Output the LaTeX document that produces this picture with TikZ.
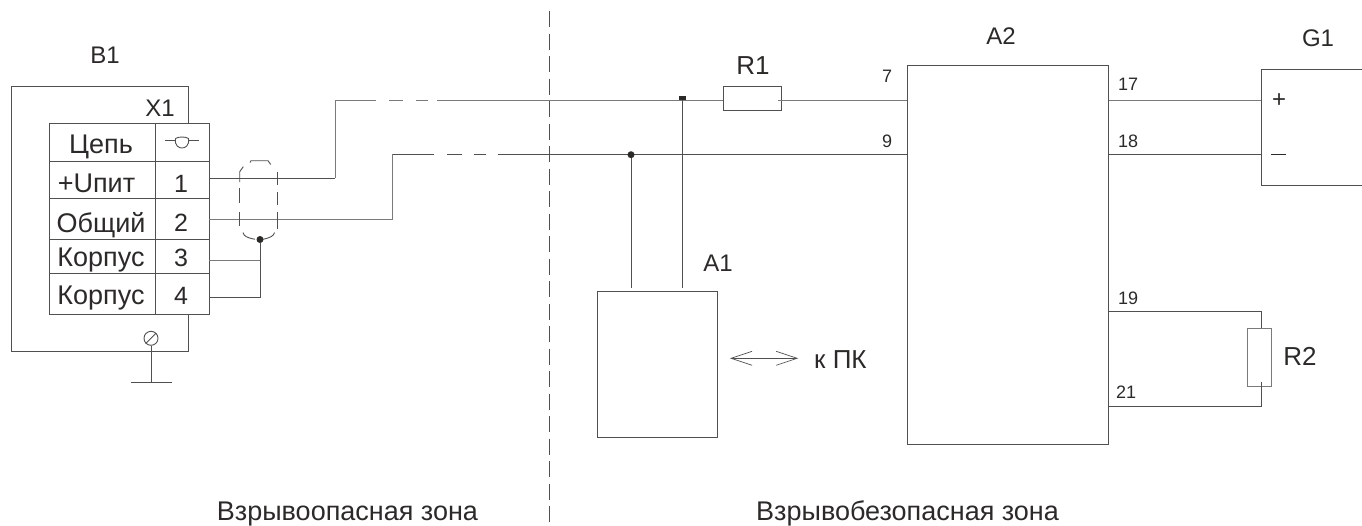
\documentclass[tikz,border=0pt]{standalone}
\usepackage{fontspec}
\setmainfont{Liberation Sans}
\usetikzlibrary{arrows.meta}
\definecolor{wire}{HTML}{505050}
\definecolor{wiregrey}{HTML}{7A7A7A}
\definecolor{ink}{HTML}{2B2A29}
\tikzset{
  wireline/.style={draw=wire,line width=1pt},
  greyline/.style={draw=wiregrey,line width=1pt},
  blockbox/.style={draw=wire,line width=1pt,fill=white,minimum width=0pt,minimum height=0pt,inner sep=0pt},
  biglabel/.style={text=ink,inner sep=0pt,font=\fontsize{24}{24}\selectfont},
  widelabel/.style={text=ink,inner sep=0pt,font=\fontsize{26}{26}\selectfont},
  cellt/.style={text=ink,inner sep=0pt,anchor=base,font=\fontsize{27}{27}\selectfont},
  celln/.style={text=ink,inner sep=0pt,anchor=base,font=\fontsize{25}{25}\selectfont},
  pinlabel/.style={text=ink,inner sep=0pt,font=\fontsize{18}{18}\selectfont},
  zonelabel/.style={text=ink,inner sep=0pt,font=\fontsize{27}{27}\selectfont},
  junction/.style={circle,fill=ink,inner sep=0pt,minimum size=7pt},
  shieldline/.style={draw=wire,line width=0.9pt},
}
\begin{document}
\begin{tikzpicture}[x=1pt,y=-1pt]
\useasboundingbox (0,0) rectangle (1362,525);
% boundary
\coordinate (zt) at (549.7,11); \coordinate (zb) at (549.7,525);
\draw[draw=wire,line width=1pt,dash pattern=on 16pt off 6.5pt] (zt) -- (zb);
% B1
\draw[blockbox] (11.5,86) rectangle (188.5,351.7);
\draw[blockbox] (49,123.7) rectangle (209,314);
\foreach \yy in {161,198.7,239.3,273.3} \draw[wireline] (49,\yy) -- (209,\yy);
\draw[wireline] (155,123.7) -- (155,314);
\node[biglabel] (b1) at (105,55) {B1};
\node[biglabel] (x1) at (160,108) {X1};
\node[cellt] (c0) at (101,153.3) {Цепь};
\node[cellt] (c1) at (96.5,192.7) {+Uпит};
\node[cellt] (c2) at (101,232) {Общий};
\node[cellt] (c3) at (101,266.7) {Корпус};
\node[cellt] (c4) at (101,304) {Корпус};
\node[celln] (n1) at (181,192.7) {1};
\node[celln] (n2) at (181,231.7) {2};
\node[celln] (n3) at (181,266.7) {3};
\node[celln] (n4) at (181,304) {4};
% symbol
\draw[shieldline] (165,140.7) -- (175,140.7);
\draw[shieldline] (189,140.7) -- (199,140.7);
\draw[shieldline] (175.5,138.5) .. controls (178,136.5) and (186,136.5) .. (188.5,138.5) .. controls (189.5,146) and (185,148) .. (182,148) .. controls (179,148) and (174.5,146) .. (175.5,138.5);
% earth
\node[draw=wire,line width=0.9pt,circle,minimum size=14pt,inner sep=0pt,fill=white] (gc) at (151,338.3) {};
\draw[draw=wire,line width=0.9pt] (gc.north east) -- (gc.south west);
\coordinate (gb) at (151,382.3);
\draw[wireline] (gc.south) -- (gb);
\draw[wireline] (130.7,382.3) -- (171.7,382.3);
% wires left
\coordinate (w1a) at (209,178); \coordinate (w1b) at (335,178); \coordinate (w1c) at (335,100);
\coordinate (w2a) at (209,219); \coordinate (w2b) at (392.7,219); \coordinate (w2c) at (392.7,154.3);
\node[junction] (j0) at (260,239.5) {};
\draw[wireline] (w1a) -- (w1b);
\draw[greyline] (w1b) -- (w1c) -- (376,100);
\draw[greyline] (389,100) -- (403,100);
\draw[greyline] (416,100) -- (428,100);
\draw[greyline] (w2a) -- (w2b) -- (w2c);
\draw[wireline] (w2c) -- (434,154.3);
\draw[wireline] (447,154.3) -- (462,154.3);
\draw[wireline] (474,154.3) -- (486,154.3);
\draw[greyline] (209,260) -- (260,260);
\draw[wireline] (209,297.3) -- (260,297.3) -- (j0);
% shield
\draw[shieldline] (239.7,182) -- (239.7,171.7) -- (243.3,166.7);
\draw[shieldline] (250,162.5) -- (251,160.7) -- (268,160.7) -- (270.7,164.5);
\draw[shieldline] (239.7,188) -- (239.7,202.7);
\draw[shieldline] (239.7,212) -- (239.7,226);
\draw[shieldline] (277.3,172) -- (277.3,185);
\draw[shieldline] (277.3,192) -- (277.3,205);
\draw[shieldline] (277.3,212) -- (277.3,229);
\draw[shieldline] (243,232.5) .. controls (244,236) and (246,237.5) .. (255,239.3);
\draw[shieldline] (274.5,232.5) .. controls (273.5,236) and (271,237.5) .. (263,239.3);
% R1, A2
\node[blockbox,minimum width=58pt,minimum height=24.3pt] (r1) at (752,98.2) {};
\node[widelabel] (r1l) at (753,66) {R1};
\node[blockbox,minimum width=201.3pt,minimum height=378.4pt,anchor=north west] (a2) at (907,65.3) {};
\node[biglabel] (a2l) at (1001,36) {A2};
\draw[greyline] (437,100) -- (r1.west |- 0,100);
\draw[greyline] (778,100) -- (a2.west |- 0,100);
\draw[wireline] (498,154.3) -- (a2.west |- 0,154.3);
\node[pinlabel] at (887,76.7) {7};
\node[pinlabel] at (887,141) {9};
% A1
\node[blockbox,minimum width=119.4pt,minimum height=146.6pt,anchor=north west] (a1) at (597.3,290.7) {};
\node[biglabel] (a1l) at (718,263) {A1};
\node[junction] (j1) at (631,154.7) {};
\node[fill=ink,minimum width=7.4pt,minimum height=4pt,inner sep=0pt] (j2) at (682.3,98) {};
\draw[wireline] (j1) -- (631,287.7);
\draw[wireline] (j2) -- (682.3,287.7);
\coordinate (pa) at (730,358.3); \coordinate (pb) at (798.3,358.3);
\draw[draw=wire,line width=0.9pt,{Straight Barb[length=21pt,width=14pt,line width=0.7pt]}-{Straight Barb[length=21pt,width=14pt,line width=0.7pt]}] (pa) -- (pb);
\node[widelabel,anchor=west] (pk) at (814,360) {к ПК};
% G1
\coordinate (g1a) at (1362,69.3); \coordinate (g1b) at (1261.3,69.3); \coordinate (g1c) at (1261.3,185); \coordinate (g1d) at (1362,185);
\draw[wireline] (g1a) -- (g1b) -- (g1c) -- (g1d);
\node[biglabel] (g1l) at (1318,38) {G1};
\draw[greyline] (a2.east |- 0,100) -- (g1b |- 0,100);
\draw[wireline] (a2.east |- 0,154.3) -- (g1b |- 0,154.3);
\node[pinlabel] at (1128,84) {17};
\node[pinlabel] at (1128,141.7) {18};
\node[biglabel] (plus) at (1279,101) {+};
\draw[draw=ink,line width=0.9pt] (1271,154) -- (1286,154);
% R2
\node[draw=wiregrey,line width=1pt,fill=white,inner sep=0pt,minimum width=24pt,minimum height=58pt] (r2) at (1259.7,357) {};
\node[widelabel] (r2l) at (1300,356.7) {R2};
\draw[wireline] (a2.east |- 0,311) -- (1261.3,311) -- (1261.3,328);
\draw[wireline] (1261.3,382) -- (1261.3,406.3) -- (a2.east |- 0,406.3);
\node[pinlabel] at (1128,298) {19};
\node[pinlabel] at (1126,392) {21};
% zones
\node[zonelabel,anchor=base west] (z1) at (216.7,520) {Взрывоопасная зона};
\node[zonelabel,anchor=base west] (z2) at (756,520) {Взрывобезопасная зона};
\end{tikzpicture}
\end{document}
